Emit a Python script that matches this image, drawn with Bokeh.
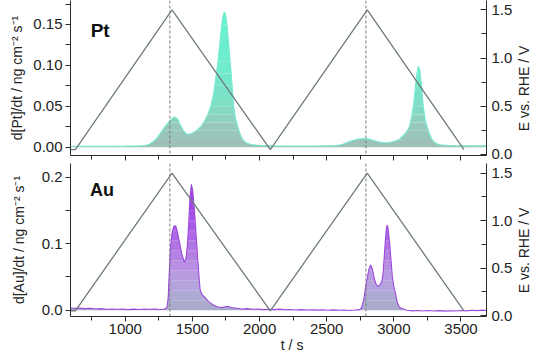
import numpy as np
from bokeh.plotting import figure
from bokeh.models import Range1d, LinearAxis, Span, Label, FixedTicker, NumeralTickFormatter
from bokeh.layouts import column, row
from bokeh.embed import file_html
from bokeh.resources import INLINE

# ---------------- data ----------------
# electrode potential (triangular sweep)
t_E = [592, 628, 1348, 2080, 2802, 3522]
E_V = [0.05, 0.05, 1.5, 0.05, 1.5, 0.05]
t_marks = [1332, 2792]

# Pt dissolution rate
t_pt = [592, 800, 1000, 1100, 1150, 1180, 1210, 1240, 1270, 1300, 1330, 1355, 1372, 1390, 1410,
        1430, 1452, 1475, 1500, 1530, 1563, 1590, 1615, 1637, 1655, 1672, 1687, 1700, 1712, 1724,
        1736, 1746, 1756, 1767, 1777, 1786, 1797, 1808, 1822, 1838, 1855, 1875, 1900, 1930, 1970,
        2020, 2100, 2300, 2500, 2580, 2620, 2660, 2700, 2740, 2775, 2810, 2850, 2890, 2927, 2965,
        3000, 3040, 3075, 3100, 3115, 3130, 3145, 3158, 3170, 3182, 3194, 3206, 3219, 3233, 3248,
        3265, 3285, 3310, 3340, 3400, 3500, 3690]
pt = [0.0012, 0.0012, 0.0013, 0.0015, 0.002, 0.0035, 0.007, 0.012, 0.019, 0.026, 0.032, 0.036, 0.0368, 0.034, 0.027,
      0.021, 0.0165, 0.0158, 0.017, 0.0205, 0.025, 0.032, 0.040, 0.05, 0.063, 0.082, 0.1, 0.12, 0.14, 0.157,
      0.165, 0.163, 0.152, 0.132, 0.112, 0.095, 0.072, 0.05, 0.034, 0.025, 0.016, 0.009, 0.0055, 0.0035, 0.0025,
      0.002, 0.0016, 0.0015, 0.0016, 0.002, 0.0035, 0.0062, 0.0085, 0.0100, 0.0104, 0.0098, 0.0082, 0.0062, 0.0052, 0.0056,
      0.0068, 0.0095, 0.015, 0.02, 0.025, 0.035, 0.05, 0.07, 0.088, 0.099, 0.094, 0.075, 0.05, 0.034, 0.025,
      0.016, 0.009, 0.005, 0.003, 0.002, 0.0018, 0.0017]

# Au dissolution rate
t_au = [592, 620, 660, 700, 740, 780, 820, 860, 900, 940, 980, 1020, 1060, 1100, 1140, 1180, 1220, 1260,
        1290, 1305, 1312, 1320, 1326, 1333, 1339, 1350, 1362, 1375, 1388, 1400, 1408, 1420, 1440, 1452,
        1462, 1472, 1482, 1492, 1502, 1515, 1530, 1542, 1551, 1558, 1570, 1590, 1620, 1655, 1690, 1720,
        1760, 1790, 1830, 1870, 1910, 1950, 1990, 2030, 2070, 2110, 2150, 2190, 2230, 2270, 2310, 2350,
        2390, 2430, 2470, 2510, 2550, 2590, 2630, 2670, 2710, 2745, 2759, 2775, 2790, 2803, 2815, 2828,
        2840, 2855, 2870, 2882, 2895, 2910, 2920, 2935, 2943, 2950, 2958, 2969, 2979, 2989, 3000, 3013,
        3025, 3043, 3070, 3100, 3140, 3180, 3220, 3260, 3300, 3340, 3380, 3420, 3460, 3500, 3540, 3580,
        3620, 3660, 3690]
au = [0.0035, 0.003, 0.0035, 0.0025, 0.003, 0.002, 0.0025, 0.0015, 0.002, 0.0015, 0.002, 0.001, 0.0018, 0.0012, 0.002, 0.0015, 0.002, 0.0012,
      0.002, 0.003, 0.006, 0.02, 0.05, 0.08, 0.1, 0.118, 0.126, 0.127, 0.118, 0.105, 0.098, 0.085, 0.072, 0.078,
      0.096, 0.13, 0.17, 0.189, 0.18, 0.15, 0.105, 0.07, 0.045, 0.03, 0.024, 0.02, 0.013, 0.008, 0.005, 0.004,
      0.006, 0.004, 0.003, 0.002, 0.0025, 0.0015, 0.002, 0.001, 0.0015, 0.001, 0.0018, 0.0008, 0.0012, 0.0005, 0.001, 0.0004,
      0.0009, 0.0003, 0.0008, 0.0, 0.0006, 0.0, 0.0005, -0.0002, 0.0004, 0.001, 0.004, 0.015, 0.035, 0.05, 0.062, 0.068,
      0.062, 0.047, 0.038, 0.036, 0.038, 0.043, 0.055, 0.1, 0.12, 0.128, 0.122, 0.1, 0.075, 0.05, 0.035, 0.025,
      0.012, 0.004, 0.002, 0.0, -0.0008, -0.0003, -0.001, -0.0004, -0.001, -0.0005, -0.0012, -0.0006, -0.001, -0.0004, -0.0008, 0.0,
      -0.0005, 0.0002, -0.0003]

x_ticks = [1000, 1500, 2000, 2500, 3000, 3500]
x_minor = [750, 1250, 1750, 2250, 2750, 3250]
pt_ticks = [0.0, 0.05, 0.10, 0.15]
pt_minor = [0.025, 0.075, 0.125, 0.175]
au_ticks = [0.0, 0.1, 0.2]
au_minor = [0.05, 0.15]
E_ticks = [0.0, 0.5, 1.0, 1.5]
E_minor = [0.25, 0.75, 1.25]

x_label = "t / s"
pt_label = "d[Pt]/dt / ng cm\u207b\u00b2 s\u207b\u00b9"
au_label = "d[Au]/dt / ng cm\u207b\u00b2 s\u207b\u00b9"
E_label = "E vs. RHE / V"

# ---------------- style ----------------
FONT = "Liberation Sans"
AX = "#2b2b2b"
TXT = "#222222"

pt_levels = [0, 0.01, 0.02, 0.03, 0.04, 0.05, 0.06, 0.075, 0.09, 0.105, 0.12, 0.135, 0.15, 0.25]
pt_anchor_y = [0.0, 0.03, 0.05, 0.1, 0.165]
pt_anchor_c = [(160, 190, 182), (148, 204, 190), (128, 222, 197), (112, 236, 205), (100, 243, 208)]
au_levels = [0, 0.015, 0.03, 0.045, 0.06, 0.075, 0.09, 0.105, 0.12, 0.135, 0.15, 0.165, 0.18, 0.25]
au_anchor_y = [0.0, 0.03, 0.06, 0.1, 0.14, 0.19]
au_anchor_c = [(168, 172, 200), (178, 168, 218), (186, 150, 226), (178, 115, 229), (166, 82, 229), (156, 56, 226)]


def band_color(y, ay, ac):
    r = np.interp(y, ay, [c[0] for c in ac])
    g = np.interp(y, ay, [c[1] for c in ac])
    b = np.interp(y, ay, [c[2] for c in ac])
    return "#%02x%02x%02x" % (int(r), int(g), int(b))


def style_axis(ax, fs="15px"):
    ax.axis_line_color = AX
    ax.major_tick_line_color = AX
    ax.minor_tick_line_color = AX
    ax.major_label_text_font = FONT
    ax.major_label_text_font_size = fs
    ax.major_label_text_color = TXT
    ax.axis_label_text_font = FONT
    ax.axis_label_text_font_size = "14px"
    ax.axis_label_text_font_style = "normal"
    ax.axis_label_text_color = TXT


xr = Range1d(592, 3690)
MAIN_W = 515
SIDE_W = 534 - MAIN_W


def make_panel(height, yr, Er, t, v, levels, ay, ac, line_c, ylab, yt, ym, fmt, top):
    p = figure(width=MAIN_W, height=height, x_range=xr, y_range=yr,
               output_backend="svg", toolbar_location=None,
               min_border_left=70, min_border_right=MAIN_W - 488, min_border_top=0,
               min_border_bottom=8 if top else 37)
    p.outline_line_color = None
    p.grid.visible = False
    p.background_fill_color = "white"
    p.border_fill_color = "white"
    p.extra_y_ranges = {"E": Er}

    va = np.array(v)
    for lo, hi in zip(levels[:-1], levels[1:]):
        y1 = np.minimum(va, lo)
        y2 = np.minimum(va, hi)
        if np.all(y2 <= y1):
            continue
        p.varea(x=t, y1=y1, y2=y2, fill_color=band_color((lo + min(hi, va.max())) / 2, ay, ac),
                fill_alpha=1.0)
    p.line(t, v, line_color=line_c, line_width=1.1)

    p.line(t_E, E_V, y_range_name="E", line_color="#6f7b7b", line_width=1.3)
    for tm in t_marks:
        p.add_layout(Span(location=tm, dimension="height", line_color="#7a7a7a",
                          line_dash="3 2", line_width=1))

    # x axis
    xa = p.xaxis[0]
    style_axis(xa)
    xa.ticker = FixedTicker(ticks=x_ticks, minor_ticks=x_minor)
    xa.major_tick_in = 0
    xa.major_tick_out = 5
    xa.minor_tick_in = 0
    xa.minor_tick_out = 4
    if top:
        xa.major_label_overrides = {k: "" for k in x_ticks}
        xa.major_label_text_font_size = "0px"
        xa.major_label_standoff = 0
    else:
        xa.major_label_standoff = 2
        xa.axis_label = "\u00a0" * 7 + x_label
        xa.axis_label_standoff = 0

    # left axis
    ya = p.yaxis[0]
    style_axis(ya)
    ya.ticker = FixedTicker(ticks=yt, minor_ticks=ym)
    ya.formatter = NumeralTickFormatter(format=fmt)
    ya.major_tick_in = 0
    ya.major_tick_out = 5
    ya.minor_tick_in = 0
    ya.minor_tick_out = 5
    ya.major_label_standoff = 3
    ya.axis_label = ylab
    ya.axis_label_standoff = 5 if top else 12

    # right axis
    ra = LinearAxis(y_range_name="E")
    style_axis(ra)
    ra.ticker = FixedTicker(ticks=E_ticks, minor_ticks=E_minor)
    ra.formatter = NumeralTickFormatter(format="0.0")
    ra.major_tick_in = 6
    ra.major_tick_out = 0
    ra.minor_tick_in = 5
    ra.minor_tick_out = 0
    ra.major_label_standoff = 5
    p.add_layout(ra, "right")
    return p


def side_title(height, center_from_top):
    s = figure(width=SIDE_W, height=height, x_range=Range1d(0, SIDE_W), y_range=Range1d(0, height),
               output_backend="svg", toolbar_location=None, min_border=0,
               x_axis_type=None, y_axis_type=None)
    s.outline_line_color = None
    s.grid.visible = False
    s.add_layout(Label(x=523 - 534 + SIDE_W, y=height - center_from_top, text=E_label,
                       angle=np.pi / 2, text_align="center", text_baseline="middle",
                       text_font=FONT, text_font_size="14px", text_color=TXT))
    return s


p1 = make_panel(163, Range1d(-0.0102, 0.1793), Range1d(-0.0104, 1.5975),
                t_pt, pt, pt_levels, pt_anchor_y, pt_anchor_c, "#74ead0",
                pt_label, pt_ticks, pt_minor, "0.00", True)
p1.add_layout(Label(x=742, y=0.1427, text="Pt", text_font=FONT, text_font_size="19px",
                    text_font_style="bold", text_color="#111111", text_baseline="alphabetic"))

p2 = make_panel(192, Range1d(-0.0093, 0.2203), Range1d(-0.0104, 1.601),
                t_au, au, au_levels, au_anchor_y, au_anchor_c, "#9a48dc",
                au_label, au_ticks, au_minor, "0.0", False)
p2.add_layout(Label(x=738, y=0.180, text="Au", text_font=FONT, text_font_size="18px",
                    text_font_style="bold", text_color="#111111", text_baseline="alphabetic"))

s1 = side_title(163, 88)
s2 = side_title(192, 87)

layout = row(column(p1, p2, spacing=0), column(s1, s2, spacing=0), spacing=0)
open("out.html", "w").write(file_html(layout, INLINE))
